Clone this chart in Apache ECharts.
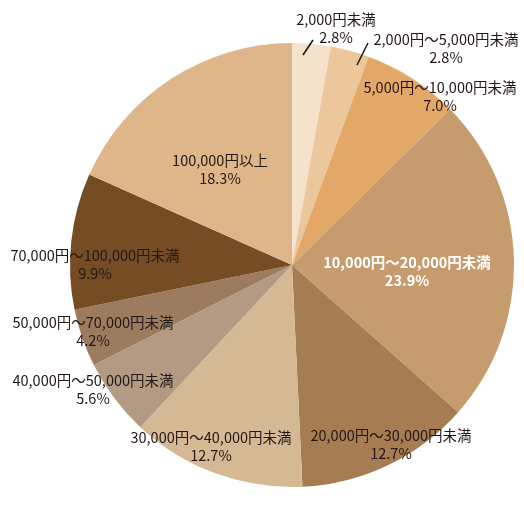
<!DOCTYPE html>
<html>
<head>
<meta charset="utf-8">
<script src="https://cdn.jsdelivr.net/npm/echarts@6/dist/echarts.min.js"></script>
<style>
  html, body { margin:0; padding:0; background:#fff; }
  #chart { width:524px; height:524px; }
</style>
</head>
<body>
<div id="chart"></div>
<script>
// 区分と構成比(%)
var categories = [
  '2,000円未満',
  '2,000円～5,000円未満',
  '5,000円～10,000円未満',
  '10,000円～20,000円未満',
  '20,000円～30,000円未満',
  '30,000円～40,000円未満',
  '40,000円～50,000円未満',
  '50,000円～70,000円未満',
  '70,000円～100,000円未満',
  '100,000円以上'
];
var shares = [2.8, 2.8, 7.0, 23.9, 12.7, 12.7, 5.6, 4.2, 9.9, 18.3];
var colors = ['#f5e2cc', '#ecc79b', '#e3a868', '#c69b6d', '#a67c52',
              '#d5b894', '#b39b83', '#9d7b5e', '#754c24', '#deb68a'];

// ラベルの中心位置(px)と引き出し線
var labelPos = [[336,28],[446,48],[440,96],[407,271],[391,444],
                [211,446],[93,389],[93,331],[95,264],[220,169]];
var leaderLines = [
  [303, 55, 313, 40],
  [357, 65, 368, 43]
];

var chart = echarts.init(document.getElementById('chart'));

var seriesData = [];
for (var i = 0; i < categories.length; i++) {
  var item = {
    name: categories[i],
    value: shares[i],
    itemStyle: { color: colors[i] }
  };
  if (i == 3) {
    item.label = { color: '#ffffff', fontWeight: 'bold' };
  }
  seriesData.push(item);
}

// 引き出し線（扇形の上に描く）
var lineGraphics = [];
for (var j = 0; j < leaderLines.length; j++) {
  var l = leaderLines[j];
  lineGraphics.push({
    type: 'line',
    z: 100,
    shape: { x1: l[0], y1: l[1], x2: l[2], y2: l[3] },
    style: { stroke: '#231815', lineWidth: 1.6 }
  });
}

var option = {
  animation: false,
  graphic: lineGraphics,
  series: [{
    type: 'pie',
    center: [292, 265],
    radius: 222,
    startAngle: 90,
    clockwise: true,
    avoidLabelOverlap: false,
    emphasis: { disabled: true },
    itemStyle: { borderWidth: 0 },
    label: {
      show: true,
      position: 'outside',
      fontFamily: '"Noto Sans CJK JP", sans-serif',
      fontSize: 14.5,
      lineHeight: 18,
      color: '#231815',
      formatter: function(p){
        return p.name + '\n' + p.value.toFixed(1) + '%';
      }
    },
    labelLine: { show: false },
    labelLayout: function(params){
      var idx = params.dataIndex;
      return {
        x: labelPos[idx][0],
        y: labelPos[idx][1],
        align: 'center',
        verticalAlign: 'middle'
      };
    },
    data: seriesData
  }]
};

chart.setOption(option);
</script>
</body>
</html>
